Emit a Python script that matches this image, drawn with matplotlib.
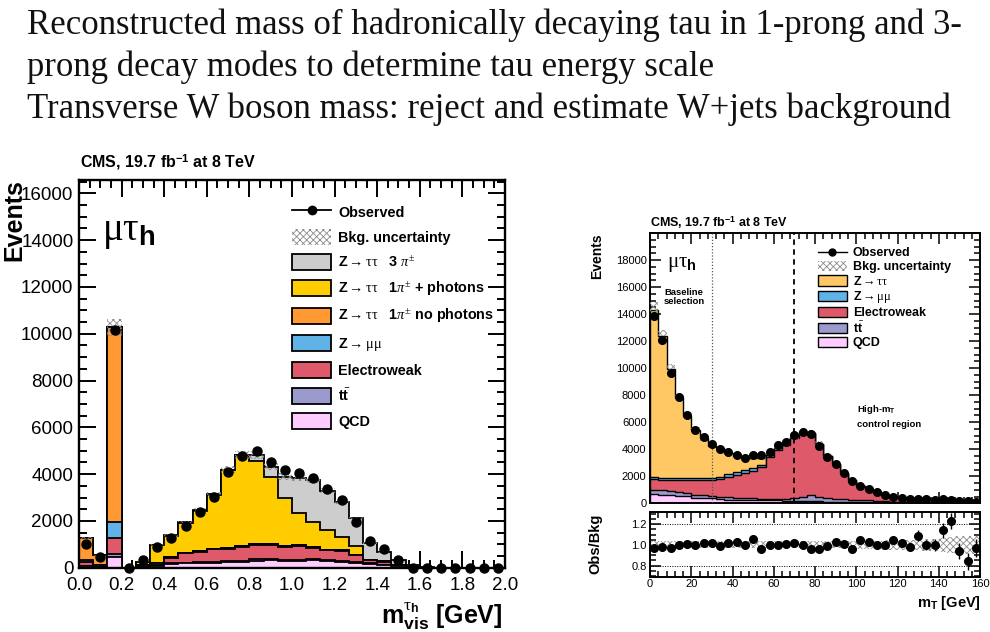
import numpy as np
import matplotlib
matplotlib.use("Agg")
import matplotlib.pyplot as plt
from matplotlib.patches import Patch
from matplotlib.lines import Line2D
from matplotlib.ticker import MultipleLocator, FormatStrFormatter, FixedLocator

plt.rcParams['font.family'] = ['Liberation Sans', 'DejaVu Sans']
plt.rcParams['mathtext.fontset'] = 'custom'
plt.rcParams['mathtext.rm'] = 'Liberation Serif'
plt.rcParams['mathtext.it'] = 'Liberation Serif:italic'
plt.rcParams['mathtext.bf'] = 'Liberation Sans:bold'
plt.rcParams['mathtext.sf'] = 'Liberation Sans'
plt.rcParams['hatch.linewidth'] = 0.6

# ---------------- slide text ----------------
slide_lines = [
    "Reconstructed mass of hadronically decaying tau in 1-prong and 3-",
    "prong decay modes to determine tau energy scale",
    "Transverse W boson mass: reject and estimate W+jets background",
]

# ---------------- left panel: m_vis (30 bins, 0-2 GeV) ----------------
mvis_range = (0.0, 2.0)
mvis_nbins = 30
mvis_ticks = [0.0, 0.2, 0.4, 0.6, 0.8, 1.0, 1.2, 1.4, 1.6, 1.8, 2.0]
events_ticks_l = [0, 2000, 4000, 6000, 8000, 10000, 12000, 14000, 16000]

obs_l = [1000, 440, 10150, 0, 330, 880, 1290, 1770, 2360, 3030, 4100, 4770, 4980, 4500,
         4170, 4030, 3820, 3360, 2890, 1940, 1140, 780, 350, 0, 0, 0, 0, 0, 0, 0]
qcd_l = [60, 30, 470, 0, 30, 80, 150, 180, 200, 210, 230, 240, 300, 310, 290, 300, 320,
         280, 250, 220, 160, 110, 60, 20, 5, 0, 0, 0, 0, 0]
tt_l = [20, 10, 100, 0, 10, 20, 30, 40, 40, 50, 50, 50, 60, 60, 50, 50, 50, 40, 40, 30,
        20, 20, 10, 5, 0, 0, 0, 0, 0, 0]
ew_l = [150, 60, 710, 0, 50, 100, 245, 390, 440, 520, 540, 600, 630, 595, 550, 585, 480,
        430, 430, 290, 150, 125, 40, 15, 0, 0, 0, 0, 0, 0]
zmm_l = [90, 30, 690, 0, 10, 10, 20, 20, 30, 30, 40, 40, 40, 40, 30, 30, 30, 20, 20, 20,
         10, 10, 5, 0, 0, 0, 0, 0, 0, 0]
ztt_nophot_l = [960, 400, 8300, 0, 0, 0, 0, 0, 0, 0, 0, 0, 0, 0, 0, 0, 0, 0, 0, 0, 0, 0,
                0, 0, 0, 0, 0, 0, 0, 0]
ztt_phot_l = [0, 0, 0, 0, 160, 760, 915, 1280, 1710, 2300, 3300, 3870, 3540, 2885, 2045,
              1360, 1086, 840, 560, 354, 0, 0, 0, 0, 0, 0, 0, 0, 0, 0]
ztt_3pi_l = [0, 0, 0, 0, 0, 10, 20, 30, 30, 30, 30, 30, 240, 427, 925, 1495, 1784, 1680,
             1522, 1197, 716, 393, 214, 70, 30, 0, 0, 0, 0, 0]
bkg_unc_l = 0.035

# ---------------- right panel: m_T (40 bins, 0-160 GeV) ----------------
mt_range = (0.0, 160.0)
mt_nbins = 40
mt_ticks = [0, 20, 40, 60, 80, 100, 120, 140, 160]
events_ticks_r = [0, 2000, 4000, 6000, 8000, 10000, 12000, 14000, 16000, 18000]
ratio_ticks = [0.8, 1.0, 1.2]

obs_r = [13870, 12080, 9620, 7900, 6570, 5460, 4900, 4360, 4030, 3780, 3600, 3380, 3560,
         3570, 3800, 4280, 4570, 5060, 5260, 5100, 4250, 3450, 2920, 2270, 1650, 1300,
         1050, 800, 610, 450, 400, 320, 320, 290, 250, 290, 250, 190, 170, 120]
qcd_r = [700, 650, 600, 560, 520, 420, 380, 370, 300, 280, 250, 240, 230, 230, 220, 210,
         200, 190, 180, 170, 150, 130, 120, 110, 100, 90, 80, 70, 60, 50, 40, 40, 30, 30,
         30, 20, 20, 20, 20, 10]
tt_r = [300, 300, 280, 270, 250, 200, 200, 190, 200, 180, 130, 130, 130, 120, 130, 140,
        150, 170, 300, 430, 300, 260, 200, 180, 170, 150, 130, 110, 90, 80, 70, 60, 50,
        50, 40, 40, 30, 30, 30, 20]
ew_r = [830, 775, 845, 895, 955, 1140, 1180, 1190, 1310, 1510, 1720, 1860, 2020, 2300,
        3070, 3630, 3960, 4440, 4730, 4590, 3940, 3080, 2565, 1955, 1415, 1035, 815, 615,
        450, 310, 270, 220, 210, 190, 170, 170, 150, 130, 120, 90]
zmm_r = [130, 120, 120, 120, 120, 130, 130, 140, 150, 170, 190, 200, 200, 180, 120, 80,
         60, 50, 40, 30, 20, 20, 10, 10, 10, 5, 5, 5, 0, 0, 0, 0, 0, 0, 0, 0, 0, 0, 0, 0]
ztt_r = [12340, 10515, 8075, 6055, 4645, 3570, 2910, 2380, 2110, 1560, 1210, 950, 780,
         500, 60, 40, 30, 20, 20, 10, 10, 10, 5, 5, 5, 0, 0, 0, 0, 0, 0, 0, 0, 0, 0, 0,
         0, 0, 0, 0]
ratio_r = [0.97, 0.977, 0.97, 1.0, 1.013, 1.0, 1.02, 1.02, 0.99, 1.02, 1.03, 1.0, 1.06,
           0.96, 1.0, 1.0, 1.01, 1.02, 1.0, 0.96, 0.96, 0.99, 1.03, 1.01, 0.96, 1.045,
           1.03, 1.0, 1.0, 1.05, 1.02, 0.98, 1.09, 1.0, 1.0, 1.14, 1.23, 0.94, 0.84, 0.97]
ratio_err_r = [0.01, 0.01, 0.01, 0.01, 0.01, 0.01, 0.01, 0.01, 0.01, 0.01, 0.01, 0.01,
               0.01, 0.01, 0.01, 0.01, 0.01, 0.01, 0.01, 0.01, 0.01, 0.01, 0.01, 0.01,
               0.02, 0.02, 0.02, 0.02, 0.03, 0.03, 0.04, 0.04, 0.05, 0.05, 0.06, 0.07,
               0.08, 0.08, 0.08, 0.09]
unc_r = [0.04, 0.04, 0.04, 0.035, 0.035, 0.035, 0.035, 0.035, 0.035, 0.035, 0.035, 0.035,
         0.035, 0.035, 0.035, 0.035, 0.035, 0.035, 0.035, 0.035, 0.035, 0.035, 0.035,
         0.035, 0.04, 0.04, 0.04, 0.04, 0.045, 0.045, 0.05, 0.05, 0.05, 0.06, 0.06, 0.07,
         0.08, 0.085, 0.085, 0.09]

# ---------------- colours ----------------
c_3pi = '#cdcdcd'
c_phot = '#ffcc00'
c_nophot = '#ff9933'
c_zmm = '#5fb3e6'
c_ew = '#de5a6a'
c_tt = '#9a9acc'
c_qcd = '#ffccff'
c_ztt = '#ffc865'
c_hatch = '#8a8a8a'

W, H = 990, 632
fig = plt.figure(figsize=(W / 100, H / 100), dpi=100)


def fx(px):
    return px / W


def fy(py):
    return 1 - py / H


# slide text
slide_y = [34, 76, 118]
for txt, yy in zip(slide_lines, slide_y):
    fig.text(fx(27), fy(yy), txt, family=['Liberation Serif', 'DejaVu Serif'],
             fontsize=25, va='baseline', ha='left', color='#111111')


def draw_stack(ax, edges, comps, colors, lw):
    cum = np.cumsum(np.array(comps, dtype=float), axis=0)
    n = len(comps)
    for i in range(n - 1, -1, -1):
        ax.stairs(cum[i], edges, baseline=0, fill=True, facecolor=colors[i],
                  edgecolor='black', linewidth=lw, zorder=2 + (n - i) * 0.01)
    return cum[-1]


def style_axes(ax, major_len, minor_len, width, labelsize, pad):
    ax.tick_params(which='both', direction='in', top=True, right=True, width=width)
    ax.tick_params(which='major', length=major_len, labelsize=labelsize, pad=pad)
    ax.tick_params(which='minor', length=minor_len)
    for s in ax.spines.values():
        s.set_linewidth(width + 0.3)


# ================= LEFT PANEL =================
axL = fig.add_axes([fx(79), fy(567.7), fx(505) - fx(79), (567.7 - 180) / H])
edges_l = np.linspace(mvis_range[0], mvis_range[1], mvis_nbins + 1)
centers_l = 0.5 * (edges_l[1:] + edges_l[:-1])
tot_l = draw_stack(axL, edges_l,
                   [qcd_l, tt_l, ew_l, zmm_l, ztt_nophot_l, ztt_phot_l, ztt_3pi_l],
                   [c_qcd, c_tt, c_ew, c_zmm, c_nophot, c_phot, c_3pi], 1.3)
axL.stairs(tot_l * (1 + bkg_unc_l), edges_l, baseline=tot_l * (1 - bkg_unc_l), fill=True,
           facecolor='none', edgecolor=c_hatch, hatch='xxxxx', linewidth=0, zorder=3)
axL.plot(centers_l, obs_l, 'o', color='black', ms=6.5, zorder=5, clip_on=False)
axL.set_xlim(*mvis_range)
axL.set_ylim(0, 16570)
axL.xaxis.set_major_locator(FixedLocator(mvis_ticks))
axL.xaxis.set_minor_locator(MultipleLocator(0.05))
axL.xaxis.set_major_formatter(FormatStrFormatter('%.1f'))
axL.yaxis.set_major_locator(FixedLocator(events_ticks_l))
axL.yaxis.set_minor_locator(MultipleLocator(500))
style_axes(axL, 12, 6, 1.4, 13.5, 4)
axL.tick_params(axis='x', pad=7)

leg_handles_l = [
    Line2D([], [], color='black', marker='o', ms=6, lw=1.3),
    Patch(facecolor='white', edgecolor=c_hatch, hatch='xxxxx', linewidth=0),
    Patch(facecolor=c_3pi, edgecolor='black', linewidth=1.3),
    Patch(facecolor=c_phot, edgecolor='black', linewidth=1.3),
    Patch(facecolor=c_nophot, edgecolor='black', linewidth=1.3),
    Patch(facecolor=c_zmm, edgecolor='black', linewidth=1.3),
    Patch(facecolor=c_ew, edgecolor='black', linewidth=1.3),
    Patch(facecolor=c_tt, edgecolor='black', linewidth=1.3),
    Patch(facecolor=c_qcd, edgecolor='black', linewidth=1.3),
]
ztt_lbl = r"Z$\mathrm{\rightarrow\tau\tau}$"
leg_labels_l = [
    "Observed", "Bkg. uncertainty",
    ztt_lbl + r"   3 $\pi^{\pm}$",
    ztt_lbl + r"   1$\pi^{\pm}$ + photons",
    ztt_lbl + r"   1$\pi^{\pm}$ no photons",
    r"Z$\mathrm{\rightarrow\mu\mu}$", "Electroweak", r"t$\bar{\mathbf{t}}$", "QCD",
]
legL = axL.legend(leg_handles_l, leg_labels_l, loc='upper left',
                  bbox_to_anchor=((292 - 79) / 426, (567.7 - 204) / 387.7),
                  frameon=False, borderpad=0, borderaxespad=0, handlelength=2.7,
                  handleheight=1.3, labelspacing=0.655, handletextpad=0.5,
                  prop={'weight': 'bold', 'size': 10.4})

fig.text(fx(80), fy(168), r"CMS, 19.7 fb$^{\mathbf{-1}}$ at 8 TeV", fontsize=11.5,
         fontweight='bold', ha='left', va='baseline')
fig.text(fx(2), fy(179), "Events", fontsize=18, fontweight='bold', rotation=90,
         ha='left', va='top')
fig.text(fx(503), fy(624), r"m$_{\mathbf{vis}}^{\mathrm{\tau}_{\mathbf{h}}}$ [GeV]",
         fontsize=18, fontweight='bold', ha='right', va='baseline')
axL.text((102 - 79) / 426, (567.7 - 240) / 387.7, r"$\mathrm{\mu\tau}_{\mathbf{h}}$",
         transform=axL.transAxes, fontsize=28, ha='left', va='baseline')

# ================= RIGHT PANEL =================
axR = fig.add_axes([fx(650), fy(503.3), (980 - 650) / W, (503.3 - 233) / H])
axQ = fig.add_axes([fx(650), fy(577), (980 - 650) / W, (577 - 511.7) / H])
edges_r = np.linspace(mt_range[0], mt_range[1], mt_nbins + 1)
centers_r = 0.5 * (edges_r[1:] + edges_r[:-1])
tot_r = draw_stack(axR, edges_r, [qcd_r, tt_r, ew_r, zmm_r, ztt_r],
                   [c_qcd, c_tt, c_ew, c_zmm, c_ztt], 1.0)
unc_arr = np.array(unc_r)
axR.stairs(tot_r * (1 + unc_arr), edges_r, baseline=tot_r * (1 - unc_arr), fill=True,
           facecolor='none', edgecolor=c_hatch, hatch='xxxxx', linewidth=0, zorder=3)
axR.plot(centers_r, obs_r, 'o', color='black', ms=5.5, zorder=5)
axR.axvline(30, color='#555555', ls=(0, (1, 1.5)), lw=0.9, zorder=4)
axR.axvline(70, color='black', ls=(0, (3, 2.5)), lw=1.3, zorder=4)
axR.set_xlim(*mt_range)
axR.set_ylim(0, 20000)
axR.xaxis.set_major_locator(FixedLocator(mt_ticks))
axR.xaxis.set_minor_locator(MultipleLocator(4))
axR.xaxis.set_major_formatter(plt.NullFormatter())
axR.yaxis.set_major_locator(FixedLocator(events_ticks_r))
axR.yaxis.set_minor_locator(MultipleLocator(500))
style_axes(axR, 8, 4, 1.1, 8, 2.5)

leg_handles_r = [
    Line2D([], [], color='black', marker='o', ms=5, lw=1.0),
    Patch(facecolor='white', edgecolor=c_hatch, hatch='xxxxx', linewidth=0),
    Patch(facecolor=c_ztt, edgecolor='black', linewidth=1.0),
    Patch(facecolor=c_zmm, edgecolor='black', linewidth=1.0),
    Patch(facecolor=c_ew, edgecolor='black', linewidth=1.0),
    Patch(facecolor=c_tt, edgecolor='black', linewidth=1.0),
    Patch(facecolor=c_qcd, edgecolor='black', linewidth=1.0),
]
leg_labels_r = ["Observed", "Bkg. uncertainty", ztt_lbl, r"Z$\mathrm{\rightarrow\mu\mu}$",
                "Electroweak", r"t$\bar{\mathbf{t}}$", "QCD"]
axR.legend(leg_handles_r, leg_labels_r, loc='upper left',
           bbox_to_anchor=((818 - 650) / 330, (503.3 - 247) / 270.3),
           frameon=False, borderpad=0, borderaxespad=0, handlelength=2.3,
           handleheight=0.9, labelspacing=0.11, handletextpad=0.5,
           prop={'weight': 'bold', 'size': 9})

axR.text((667 - 650) / 330, (503.3 - 267) / 270.3, r"$\mathrm{\mu\tau}_{\mathbf{h}}$",
         transform=axR.transAxes, fontsize=15, ha='left', va='baseline')
axR.text((684 - 650) / 330, (503.3 - 297) / 270.3, "Baseline\nselection", fontsize=6.8,
         fontweight='bold', transform=axR.transAxes, ha='center', va='center',
         linespacing=1.1)
axR.text((857 - 650) / 330, (503.3 - 416) / 270.3,
         "High-m$_{\\mathbf{T}}$\ncontrol region", fontsize=6.8, fontweight='bold',
         transform=axR.transAxes, ha='left', va='center', linespacing=1.5)
fig.text(fx(650), fy(227), r"CMS, 19.7 fb$^{\mathbf{-1}}$ at 8 TeV", fontsize=9,
         fontweight='bold', ha='left', va='baseline')
fig.text(fx(590), fy(233), "Events", fontsize=10, fontweight='bold', rotation=90,
         ha='left', va='top')

# ratio panel
axQ.stairs(1 + unc_arr, edges_r, baseline=1 - unc_arr, fill=True, facecolor='white',
           edgecolor=c_hatch, hatch='xxxxx', linewidth=0, zorder=2)
for yv in ratio_ticks:
    axQ.axhline(yv, color='black', ls=(0, (1, 1.5)), lw=0.7, zorder=1)
axQ.errorbar(centers_r, ratio_r, yerr=ratio_err_r, fmt='o', color='black', ms=5.5,
             elinewidth=1.0, capsize=0, zorder=5)
axQ.set_xlim(*mt_range)
axQ.set_ylim(0.69, 1.32)
axQ.xaxis.set_major_locator(FixedLocator(mt_ticks))
axQ.xaxis.set_minor_locator(MultipleLocator(4))
axQ.yaxis.set_major_locator(FixedLocator(ratio_ticks))
axQ.yaxis.set_minor_locator(MultipleLocator(0.05))
axQ.yaxis.set_major_formatter(FormatStrFormatter('%.1f'))
style_axes(axQ, 8, 4, 1.1, 8, 2.5)
axQ.tick_params(axis='x', pad=1.5)
fig.text(fx(588), fy(544), "Obs/Bkg", fontsize=10.5, fontweight='bold', rotation=90,
         ha='left', va='center')
fig.text(fx(981), fy(607), r"m$_{\mathbf{T}}$ [GeV]", fontsize=10.5, fontweight='bold',
         ha='right', va='baseline')

fig.savefig("out.png", dpi=100)
